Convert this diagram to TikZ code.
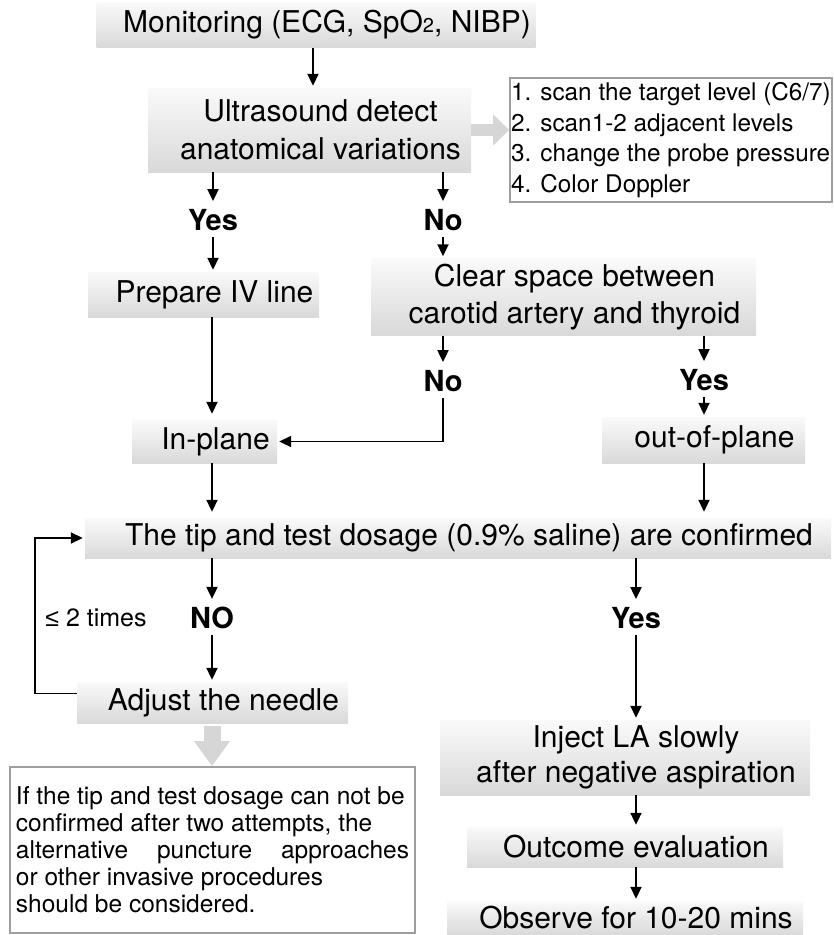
\documentclass[tikz,border=0pt]{standalone}
\usepackage{fontspec}
\setmainfont{TeX Gyre Heros}
\newfontfamily\symfnt{Liberation Sans}
\usetikzlibrary{arrows.meta,calc}
\newcommand\tsh{\hspace*{22pt}}
\begin{document}
\begin{tikzpicture}[x=1pt,y=-1pt,
  box/.style={rectangle, top color=black!2, bottom color=black!15, draw=none,
    inner sep=0pt, font=\fontsize{30}{37}\selectfont, align=center},
  framebox/.style={rectangle, draw=black!38, line width=1.6pt, fill=white, inner sep=0pt, align=left},
  lbl/.style={font=\bfseries\fontsize{29}{29}\selectfont, inner xsep=0pt, inner ysep=6pt},
  arr/.style={line width=1.9pt, -{Triangle[width=11pt,length=12pt]}, shorten >=2pt},
  garr/.style={draw=black!16, line width=12pt, -{Triangle[width=30pt,length=16pt]}},
  gdarr/.style={draw=black!16, line width=17pt, -{Triangle[width=34pt,length=25pt]}}
]
\useasboundingbox (0,0) rectangle (834,935);
% x positions of vertical connectors
\coordinate (xa) at (212,0);
\coordinate (xb) at (443,0);
\coordinate (xc) at (704,0);
\coordinate (xd) at (636,0);
\coordinate (xe) at (313,0);
\coordinate (xl) at (35,0);

% boxes
\node[box, minimum width=439pt, minimum height=45pt] (mon) at (316,25)
  {\tsh Monitoring (ECG, SpO{\fontsize{20}{20}\selectfont 2}, NIBP)};
\node[box, minimum width=323pt, minimum height=84pt, font=\fontsize{30}{38}\selectfont] (us) at (309.5,130)
  {\tsh Ultrasound detect\\ \tsh anatomical variations};
\node[framebox, minimum width=322pt, minimum height=124pt, font=\fontsize{24.3}{30.5}\selectfont] (side) at (671,140)
  {1. scan the target level (C6/7)\\
   2. scan1-2 adjacent levels\\
   3. change the probe pressure\\
   4. Color Doppler};
\node[box, minimum width=231pt, minimum height=45pt] (iv) at (203.5,294.5)
  {\tsh Prepare IV line};
\node[box, minimum width=385pt, minimum height=77pt] (clear) at (563.5,297)
  {\tsh Clear space between\\ \tsh carotid artery and thyroid};
\node[box, minimum width=145pt, minimum height=43pt] (inplane) at (204.5,441.5)
  {\tsh In-plane};
\node[box, minimum width=203pt, minimum height=46pt] (outplane) at (703.5,440)
  {\tsh out-of-plane};
\node[box, minimum width=746pt, minimum height=40pt] (tip) at (458,538)
  {\tsh The tip and test dosage (0.9\% saline) are confirmed};
\node[box, minimum width=271pt, minimum height=41pt] (adjust) at (212.5,702.5)
  {\tsh Adjust the needle};
\node[framebox, minimum width=405pt, minimum height=166pt, font=\fontsize{24.5}{27}\selectfont] (note) at (212.5,850)
  {If the tip and test dosage can not be\\
   confirmed after two attempts, the\\
   \makebox[393pt][s]{alternative puncture approaches}\\
   or other invasive procedures\\
   should be considered.};
\node[box, minimum width=370pt, minimum height=75pt, font=\fontsize{30}{35}\selectfont] (inject) at (625,757.5)
  {\tsh Inject LA slowly\\ \tsh after negative aspiration};
\node[box, minimum width=316pt, minimum height=40pt] (outcome) at (625,847)
  {\tsh Outcome evaluation};
\node[box, minimum width=356pt, minimum height=34pt] (observe) at (625,918)
  {\tsh Observe for 10-20 mins};

% labels
\node[lbl] (yes1) at (213,220) {Yes};
\node[lbl] (no1) at (443,220) {No};
\node[lbl] (no2) at (443,381) {No};
\node[lbl] (yes2) at (704,380) {Yes};
\node[lbl] (no3) at (212,618) {NO};
\node[lbl] (yes3) at (636,618) {Yes};
\node[font=\fontsize{25}{25}\selectfont, inner sep=0pt] (le) at (96,618) {{\symfnt ≤} 2 times};

% grey block arrows
\draw[garr] (us.east) -- (us.east -| side.west);
\draw[gdarr, shorten <=3pt] (adjust.south -| xa) -- (note.north -| xa);

% connectors
\draw[arr] (mon.south -| xe) -- (us.north -| xe);
\draw[arr] (us.south -| yes1) -- (yes1);
\draw[arr] (yes1) -- (iv.north -| yes1);
\draw[arr] (us.south -| xb) -- (no1);
\draw[arr] (no1) -- (clear.north -| xb);
\draw[arr, shorten >=6pt] (iv.south -| xa) -- (inplane.north -| xa);
\draw[arr] (clear.south -| xb) -- (no2);
\draw[arr] (no2) |- (inplane.east);
\draw[arr] (clear.south -| xc) -- (yes2);
\draw[arr] (yes2) -- (outplane.north -| xc);
\draw[arr, shorten >=6pt] (inplane.south -| xa) -- (tip.north -| xa);
\draw[arr, shorten >=6pt] (outplane.south -| xc) -- (tip.north -| xc);
\draw[arr] (tip.south -| xa) -- (no3);
\draw[arr] (no3) -- (adjust.north -| xa);
\draw[arr] ([yshift=9pt]adjust.west) -- ([yshift=9pt]adjust.west -| xl) |- (tip.west);
\draw[arr] (tip.south -| xd) -- (yes3);
\draw[arr] (yes3) -- (inject.north -| xd);
\draw[arr] (inject.south -| xd) -- (outcome.north -| xd);
\draw[arr] (outcome.south -| xd) -- (observe.north -| xd);
\end{tikzpicture}
\end{document}
